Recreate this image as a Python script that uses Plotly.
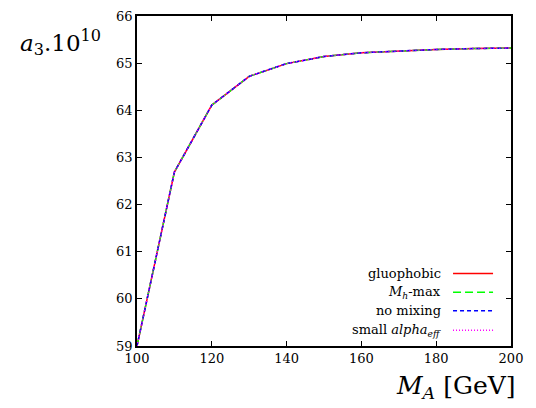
import plotly.graph_objects as go

m_a = [100, 110, 120, 130, 140, 150, 160, 170, 180, 190, 200]
a3_gluophobic = [59.0, 62.69, 64.11, 64.72, 64.99, 65.14, 65.22, 65.26, 65.29, 65.31, 65.32]
a3_mhmax = [59.0, 62.69, 64.11, 64.72, 64.99, 65.14, 65.22, 65.26, 65.29, 65.31, 65.32]
a3_nomixing = [59.0, 62.69, 64.11, 64.72, 64.99, 65.14, 65.22, 65.26, 65.29, 65.31, 65.32]
a3_smallalpha = [59.0, 62.69, 64.11, 64.72, 64.99, 65.14, 65.22, 65.26, 65.29, 65.31, 65.32]

series = [
    ("gluophobic", a3_gluophobic, "#ff0000", "solid"),
    ("<i>M</i><sub><i>h</i></sub>-max", a3_mhmax, "#00ff00", "8px,4px"),
    ("no mixing", a3_nomixing, "#0000ff", "4px,3px"),
    ("small <i>alpha</i><sub><i>eff</i></sub>", a3_smallalpha, "#ff00ff", "1px,2px"),
]

x_ticks = [100, 120, 140, 160, 180, 200]
y_ticks = [59, 60, 61, 62, 63, 64, 65, 66]

FONT = "'DejaVu Serif', 'Liberation Serif', serif"
fig = go.Figure()
for name, ys, col, dash in series:
    fig.add_trace(go.Scatter(x=m_a, y=ys, mode="lines", name=name,
                             line=dict(color=col, width=1.5, dash=dash),
                             showlegend=False))

leg_y = [0.2196, 0.163, 0.107, 0.0475]
for (name, ys, col, dash), yy in zip(series, leg_y):
    fig.add_annotation(xref="paper", yref="paper", x=0.818, y=yy, text=name,
                       showarrow=False, xanchor="right", yanchor="middle",
                       font=dict(family=FONT, size=13, color="black"))
    fig.add_shape(type="line", xref="paper", yref="paper", x0=0.845, x1=0.952,
                  y0=yy, y1=yy, line=dict(color=col, width=1.5, dash=dash))

fig.add_annotation(xref="paper", yref="paper", x=-0.318, y=0.92,
                   text="<i>a</i><sub>3</sub>.10<sup>10</sup>", showarrow=False,
                   xanchor="left", yanchor="middle",
                   font=dict(family=FONT, size=23, color="black"))
fig.add_annotation(xref="paper", yref="paper", x=1.02, y=-0.07,
                   text="<i>M</i><sub><i>A</i></sub> [GeV]", showarrow=False,
                   xanchor="right", yanchor="top",
                   font=dict(family=FONT, size=25, color="black"))

axis_common = dict(showline=True, linecolor="black", linewidth=1.5, mirror="ticks",
                   ticks="inside", ticklen=5, tickcolor="black", tickwidth=1,
                   showgrid=False, zeroline=False,
                   tickfont=dict(family=FONT, size=13, color="black"))
fig.update_xaxes(range=[100, 200], tickvals=x_ticks, **axis_common)
fig.update_yaxes(range=[59, 66], tickvals=y_ticks, **axis_common)

fig.update_layout(width=536, height=408, margin=dict(l=137, r=25, t=9, b=62),
                  plot_bgcolor="white", paper_bgcolor="white",
                  font=dict(family=FONT))
fig.write_html("out.html", config={"displayModeBar": False},
               post_script="document.body.style.margin='0px';")
